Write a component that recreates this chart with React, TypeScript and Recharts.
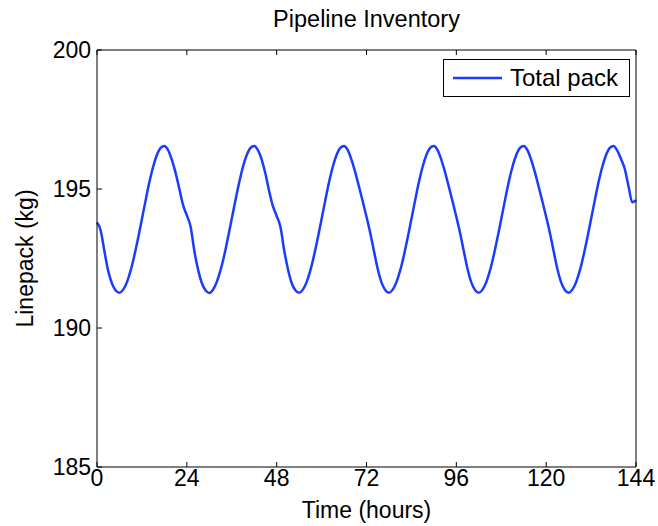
import React from 'react';
import { LineChart, Line, XAxis, YAxis, Legend } from 'recharts';

// hourly linepack readings, t = 0 .. 144 h
const linePack = [
  193.8, 193.5, 192.75, 192.05, 191.6, 191.35, 191.27, 191.38, 191.65, 192.07,
  192.62, 193.25, 193.92, 194.6, 195.25, 195.8, 196.22, 196.48, 196.55, 196.4,
  196.05, 195.58, 195.0, 194.42, 194.05, 193.65, 192.78, 192.1, 191.62, 191.36,
  191.26, 191.38, 191.66, 192.08, 192.62, 193.26, 193.93, 194.6, 195.24, 195.8,
  196.22, 196.48, 196.55, 196.4, 196.06, 195.55, 194.92, 194.38, 194.03, 193.64,
  192.8, 192.12, 191.62, 191.36, 191.27, 191.38, 191.65, 192.07, 192.62, 193.25,
  193.92, 194.6, 195.25, 195.8, 196.22, 196.48, 196.55, 196.4, 196.05, 195.6,
  195.08, 194.55, 194.0, 193.42, 192.76, 192.12, 191.64, 191.37, 191.27, 191.38,
  191.65, 192.07, 192.62, 193.25, 193.92, 194.6, 195.25, 195.8, 196.22, 196.48,
  196.55, 196.4, 196.05, 195.6, 195.08, 194.55, 194.0, 193.42, 192.76, 192.12,
  191.64, 191.37, 191.27, 191.38, 191.65, 192.07, 192.62, 193.25, 193.92, 194.6,
  195.25, 195.8, 196.22, 196.48, 196.55, 196.4, 196.05, 195.6, 195.08, 194.55,
  194.0, 193.42, 192.76, 192.12, 191.64, 191.37, 191.27, 191.38, 191.65, 192.07,
  192.62, 193.25, 193.92, 194.6, 195.25, 195.8, 196.22, 196.48, 196.55, 196.38,
  196.08, 195.72, 195.1, 194.52, 194.6,
];

const hourTicks = [0, 24, 48, 72, 96, 120, 144];
const packTicks = [185, 190, 195, 200];

const seriesName = 'Total pack';
const lineColor = '#1a3cff';
const font = '"Liberation Sans", Arial, sans-serif';

const data = linePack.map((v, i) => ({ hour: i, pack: v }));

const tickStyle = { fontSize: 23, fill: '#000', fontFamily: font };

// inner tick marks only, no labels (top / right frame)
const NoLabel = () => <g />;

const LegendBox = () => (
  <div
    style={{
      boxSizing: 'border-box',
      width: 187,
      height: 38,
      border: '1px solid #000',
      background: '#fff',
      display: 'flex',
      alignItems: 'center',
      fontFamily: font,
      fontSize: 24,
      color: '#000',
    }}
  >
    <svg width={66} height={36} style={{ flex: 'none' }}>
      <line x1={9} x2={58} y1={18} y2={18} stroke={lineColor} strokeWidth={2.5} />
    </svg>
    <span style={{ lineHeight: '24px', whiteSpace: 'nowrap' }}>{seriesName}</span>
  </div>
);

export default function App() {
  return (
    <div style={{ position: 'absolute', left: 0, top: 0, width: 658, height: 526, background: '#fff' }}>
      <LineChart width={658} height={526} data={data} margin={{ top: 49, right: 21, bottom: 0, left: 0 }}>
        <XAxis
          xAxisId="b"
          dataKey="hour"
          type="number"
          domain={[0, 144]}
          ticks={hourTicks}
          height={59}
          tickSize={-5}
          tickMargin={8}
          stroke="#000"
          tick={tickStyle}
          interval={0}
          label={{ value: 'Time (hours)', position: 'insideBottom', offset: 8, style: { fontSize: 23, fill: '#000', fontFamily: font } }}
        />
        <XAxis
          xAxisId="t"
          dataKey="hour"
          type="number"
          orientation="top"
          domain={[0, 144]}
          ticks={hourTicks}
          height={1}
          tickSize={-5}
          tick={NoLabel}
          interval={0}
          stroke="#000"
          label={{ value: 'Pipeline Inventory', position: 'top', offset: 22, style: { fontSize: 23.5, fill: '#000', fontFamily: font } }}
        />
        <YAxis
          yAxisId="l"
          type="number"
          domain={[185, 200]}
          ticks={packTicks}
          width={97}
          tickSize={-5}
          tickMargin={11}
          stroke="#000"
          tick={tickStyle}
          interval={0}
          label={{ value: 'Linepack (kg)', angle: -90, position: 'insideLeft', offset: 25, style: { textAnchor: 'middle', fontSize: 23, fill: '#000', fontFamily: font } }}
        />
        <YAxis
          yAxisId="r"
          type="number"
          orientation="right"
          domain={[185, 200]}
          ticks={packTicks}
          width={1}
          tickSize={-5}
          tick={NoLabel}
          interval={0}
          stroke="#000"
        />
        <Legend
          layout="vertical"
          align="center"
          verticalAlign="middle"
          wrapperStyle={{ top: 59, left: 443, right: 'auto', bottom: 'auto', width: 187, height: 38 }}
          content={<LegendBox />}
        />
        <Line
          xAxisId="b"
          yAxisId="l"
          type="monotone"
          dataKey="pack"
          name={seriesName}
          stroke={lineColor}
          strokeWidth={2.5}
          dot={false}
          activeDot={false}
          isAnimationActive={false}
        />
      </LineChart>
    </div>
  );
}
